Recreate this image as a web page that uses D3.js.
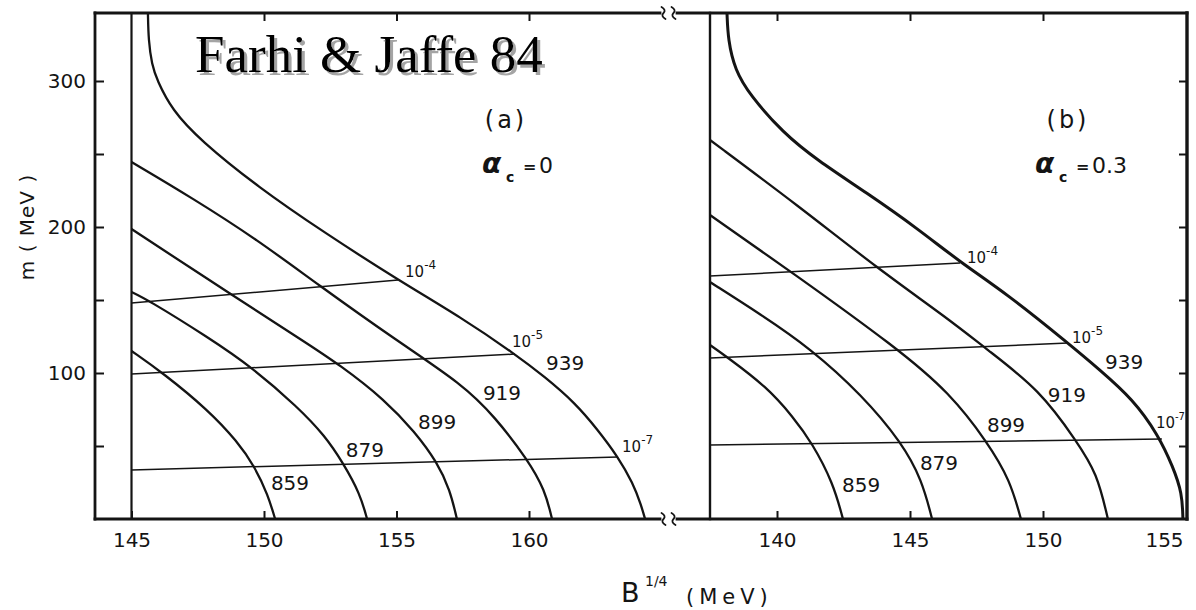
<!DOCTYPE html>
<html><head><meta charset="utf-8">
<script src="https://cdn.jsdelivr.net/npm/d3@7"></script>
<style>
body{margin:0;background:#fff}
svg{display:block}
text{font-family:"DejaVu Sans",sans-serif;fill:#141414}
</style></head>
<body><svg id="c" width="1196" height="610"></svg>
<script>
// ---------------- data ----------------
const curveLabels = ["859", "879", "899", "919", "939"];
const lineLabels = ["-4", "-5", "-7"];
const yTickValues = [50, 100, 150, 200, 250, 300];
const yTickLabels = [100, 200, 300];
const xTicksA = [145, 150, 155, 160];
const xTicksB = [140, 145, 150, 155];

// panel (a), alpha_c = 0 : [B^(1/4) MeV, m MeV]
const a859 = [[145.0,115.1],[146.19,100],[147.89,74.7],[149.0,53],[149.66,35.6],[150.15,16.4],[150.42,0]];
const a879 = [[145.0,155.5],[145.58,150.5],[147.89,124.5],[149.58,103.5],[151.28,76.5],[152.3,57],[152.98,38.5],[153.62,17.5],[153.89,0]];
const a899 = [[145.0,198.6],[148.79,153.4],[151.43,122.6],[152.87,105.5],[154.57,81.5],[155.70,59.5],[156.53,39.0],[157.02,19.9],[157.28,0]];
const a919 = [[145.0,244.5],[147.28,220.0],[149.77,191.0],[152.0,161.0],[155.06,121.5],[157.47,92.5],[158.72,69.9],[159.96,40.4],[160.60,19.9],[160.87,0]];
const a939 = [[145.62,346.6],[145.64,328],[145.77,311],[145.96,300.7],[146.53,280.1],[147.58,259.6],[149.77,227.4],[152.30,195.9],[155.06,163.7],[157.47,137.7],[159.47,113.0],[160.60,97.3],[161.74,79.5],[162.60,61.0],[163.36,42.5],[163.92,24.7],[164.23,9.6],[164.38,0]];
const aIso4 = [[145.0,147.9],[155.06,163.7]];
const aIso5 = [[145.0,99.3],[159.47,113.0]];
const aIso7 = [[145.0,33.6],[163.36,42.5]];

// panel (b), alpha_c = 0.3
const b859 = [[137.48,119.2],[138.12,111],[139.62,90.4],[140.6,70],[141.32,52.1],[142.11,24.7],[142.48,0]];
const b879 = [[137.48,162.3],[139.4,140],[141.24,117.1],[143.2,84.9],[144.70,52.1],[145.45,26.7],[145.83,0]];
const b899 = [[137.48,208.2],[140.6,168.5],[144.51,117.1],[146.5,86.3],[147.93,52.1],[148.76,26.7],[149.17,0]];
const b919 = [[137.48,259.6],[140.86,213.7],[143.76,171.9],[146.50,136.3],[147.82,117.1],[149.89,88.4],[151.28,52.7],[152.03,31.5],[152.44,0]];
const b939 = [[138.12,346.6],[138.16,328.1],[138.42,307.5],[138.98,290.4],[140.23,264.4],[141.50,245.9],[143.38,223.3],[145.26,199.3],[146.88,176.0],[148.65,154.1],[150.94,120.5],[152.14,102.1],[153.38,82.0],[154.32,58.0],[154.89,35.6],[155.23,17.8],[155.26,0]];
const bIso4 = [[137.48,166.4],[146.88,175.3]];
const bIso5 = [[137.48,110.3],[150.94,120.5]];
const bIso7 = [[137.48,50.7],[154.47,54.8]];

// label anchors (data units)
const aLabelAt = [[150.98,24.7],[153.81,47.3],[156.53,66.4],[158.98,86.3],[161.36,106.8]];
const bLabelAt = [[143.16,23.3],[146.09,38.4],[148.61,64.4],[150.90,84.9],[153.05,107.5]];

// ---------------- layout ----------------
const svg = d3.select("#c");
const X0 = 95, XBRK1 = 660, XBRK2 = 677, XR0 = 710, XR1 = 1187, YT = 13, YB = 519;
const xA = d3.scaleLinear().domain([145, 160]).range([131.5, 529]);
const xB = d3.scaleLinear().domain([140, 150]).range([777, 1043]);
const y = d3.scaleLinear().domain([0, 300]).range([519, 81]);
const ink = "#141414";

const defs = svg.append("defs");
defs.append("clipPath").attr("id", "clipA").append("rect")
  .attr("x", X0).attr("y", YT).attr("width", 668 - X0).attr("height", YB - YT);
defs.append("clipPath").attr("id", "clipB").append("rect")
  .attr("x", XR0).attr("y", YT).attr("width", XR1 - XR0).attr("height", YB - YT);
const shadow = defs.append("filter").attr("id", "shadow")
  .attr("x", "-5%").attr("y", "-20%").attr("width", "115%").attr("height", "150%");
shadow.append("feDropShadow").attr("dx", 3).attr("dy", 3).attr("stdDeviation", 0.6)
  .attr("flood-color", "#9a9a9a").attr("flood-opacity", 0.9);

// title with shadow
svg.append("text").attr("x", 195).attr("y", 72).text("Farhi & Jaffe 84")
  .attr("filter", "url(#shadow)")
  .style("font-family", "'Liberation Serif','Times New Roman',serif").style("font-size", "53px").style("fill", "#000");

// axes
function styleAxis(g) {
  g.select(".domain").remove();
  g.selectAll(".tick line").attr("stroke", ink).attr("stroke-width", 2);
  g.selectAll(".tick text").style("font-size", "20px").attr("fill", ink);
}
svg.append("g").attr("transform", `translate(0,${YB})`)
  .call(d3.axisBottom(xA).tickValues(xTicksA).tickSize(-8).tickPadding(14).tickFormat(d3.format("d")))
  .call(styleAxis);
const gbB = svg.append("g").attr("transform", `translate(0,${YB})`)
  .call(d3.axisBottom(xB).tickValues(xTicksB).tickSize(-8).tickPadding(14).tickFormat(d3.format("d")))
  .call(styleAxis);
gbB.selectAll(".tick").filter(d => d === 155).each(function () {
  d3.select(this).select("line").remove();
  d3.select(this).select("text").attr("dx", -12);
});
svg.append("g").attr("transform", `translate(0,${YT})`)
  .call(d3.axisTop(xA).tickValues([150, 155, 160]).tickSize(-8).tickFormat(""))
  .call(styleAxis);
svg.append("g").attr("transform", `translate(0,${YT})`)
  .call(d3.axisTop(xB).tickValues([140, 145, 150]).tickSize(-8).tickFormat(""))
  .call(styleAxis);
svg.append("g").attr("transform", `translate(${X0},0)`)
  .call(d3.axisLeft(y).tickValues(yTickValues).tickSize(-9).tickPadding(9)
    .tickFormat(d => yTickLabels.includes(d) ? d : ""))
  .call(styleAxis);
svg.append("g").attr("transform", `translate(${XR1},0)`)
  .call(d3.axisRight(y).tickValues(yTickValues).tickSize(-8).tickFormat(""))
  .call(styleAxis);

// frame
const frame = svg.append("g").attr("stroke", ink).attr("fill", "none").attr("stroke-linecap", "square");
frame.append("line").attr("x1", X0).attr("x2", X0).attr("y1", YT).attr("y2", YB).attr("stroke-width", 2.8);
frame.append("line").attr("x1", XR1).attr("x2", XR1).attr("y1", YT).attr("y2", YB).attr("stroke-width", 3.4);
[YT, YB].forEach(yy => {
  frame.append("line").attr("x1", X0).attr("x2", XBRK1).attr("y1", yy).attr("y2", yy).attr("stroke-width", 2.8);
  frame.append("line").attr("x1", XBRK2).attr("x2", XR1).attr("y1", yy).attr("y2", yy).attr("stroke-width", 2.8);
  [663.5, 673.5].forEach(cx => {
    frame.append("path").attr("stroke-width", 1.8).attr("stroke-linecap", "round")
      .attr("d", `M${cx - 2},${yy - 6} Q${cx + 3},${yy - 3} ${cx},${yy} T${cx + 2},${yy + 6}`);
  });
});
frame.append("line").attr("x1", xA(145)).attr("x2", xA(145)).attr("y1", YT).attr("y2", YB).attr("stroke-width", 2.2);
frame.append("line").attr("x1", XR0).attr("x2", XR0).attr("y1", YT).attr("y2", YB).attr("stroke-width", 2.4);

// curves
function drawPanel(xs, clip, curves, isos, labelAt, boldLast) {
  const g = svg.append("g").attr("clip-path", `url(#${clip})`).attr("fill", "none").attr("stroke", ink);
  const curveGen = d3.line().x(d => xs(d[0])).y(d => y(d[1])).curve(d3.curveBasis);
  const lineGen = d3.line().x(d => xs(d[0])).y(d => y(d[1]));
  curves.forEach((c, i) => {
    g.append("path").attr("d", curveGen(c))
      .attr("stroke-width", (boldLast && i === curves.length - 1) ? 3 : 2.3);
  });
  isos.forEach(c => g.append("path").attr("d", lineGen(c)).attr("stroke-width", 1.5));
  curveLabels.forEach((t, i) => {
    svg.append("text").attr("x", xs(labelAt[i][0])).attr("y", y(labelAt[i][1]))
      .attr("text-anchor", "middle").attr("dominant-baseline", "central")
      .style("font-size", "20px").text(t);
  });
}
drawPanel(xA, "clipA", [a859, a879, a899, a919, a939], [aIso4, aIso5, aIso7], aLabelAt, false);
drawPanel(xB, "clipB", [b859, b879, b899, b919, b939], [bIso4, bIso5, bIso7], bLabelAt, true);

// 10^-n labels at iso-line ends
function isoLabel(xs, pt, exp, dx, dy, expSize) {
  const px = xs(pt[0]) + dx, py = y(pt[1]) + dy;
  const t = svg.append("text").attr("x", px).attr("y", py).style("font-size", "15px");
  t.append("tspan").text("10");
  t.append("tspan").attr("dy", -8).style("font-size", (expSize || 12) + "px").text(exp);
}
isoLabel(xA, aIso4[1], lineLabels[0], 7, -3);
isoLabel(xA, aIso5[1], lineLabels[1], -3, -7);
isoLabel(xA, aIso7[1], lineLabels[2], 4, -5);
isoLabel(xB, bIso4[1], lineLabels[0], 7, 0);
isoLabel(xB, bIso5[1], lineLabels[1], 4, 0);
isoLabel(xB, bIso7[1], lineLabels[2], -6, -11, 10);

// panel captions
function caption(cx, letter, alphaX, val) {
  svg.append("text").attr("x", cx).attr("y", 120).attr("text-anchor", "middle")
    .attr("dominant-baseline", "central").style("font-size", "24px").style("letter-spacing", "3px").text(letter);
  svg.append("text").attr("x", alphaX).attr("y", 173).style("font-size", "28px").style("font-weight", "bold")
    .style("font-style", "italic").text("α");
  svg.append("text").attr("x", alphaX + 24).attr("y", 182).style("font-size", "14px").style("font-weight", "bold").text("c");
  svg.append("text").attr("x", alphaX + 41).attr("y", 172).style("font-size", "16px").style("font-weight", "bold").text("=");
  svg.append("text").attr("x", alphaX + 57).attr("y", 173).style("font-size", "22px").text(val);
}
caption(506, "(a)", 482, "0");
caption(1068, "(b)", 1035, "0.3");

// axis titles
svg.append("text").attr("transform", "translate(34,227) rotate(-90)").attr("text-anchor", "middle")
  .style("font-size", "20px").style("letter-spacing", "1px").text("m ( MeV )");
svg.append("text").attr("x", 621).attr("y", 602).style("font-size", "27px").text("B");
svg.append("text").attr("x", 645).attr("y", 586).style("font-size", "14px").text("1/4");
svg.append("text").attr("x", 686).attr("y", 604).style("font-size", "21px").style("letter-spacing", "5px").text("(MeV)");
</script>
</body></html>
